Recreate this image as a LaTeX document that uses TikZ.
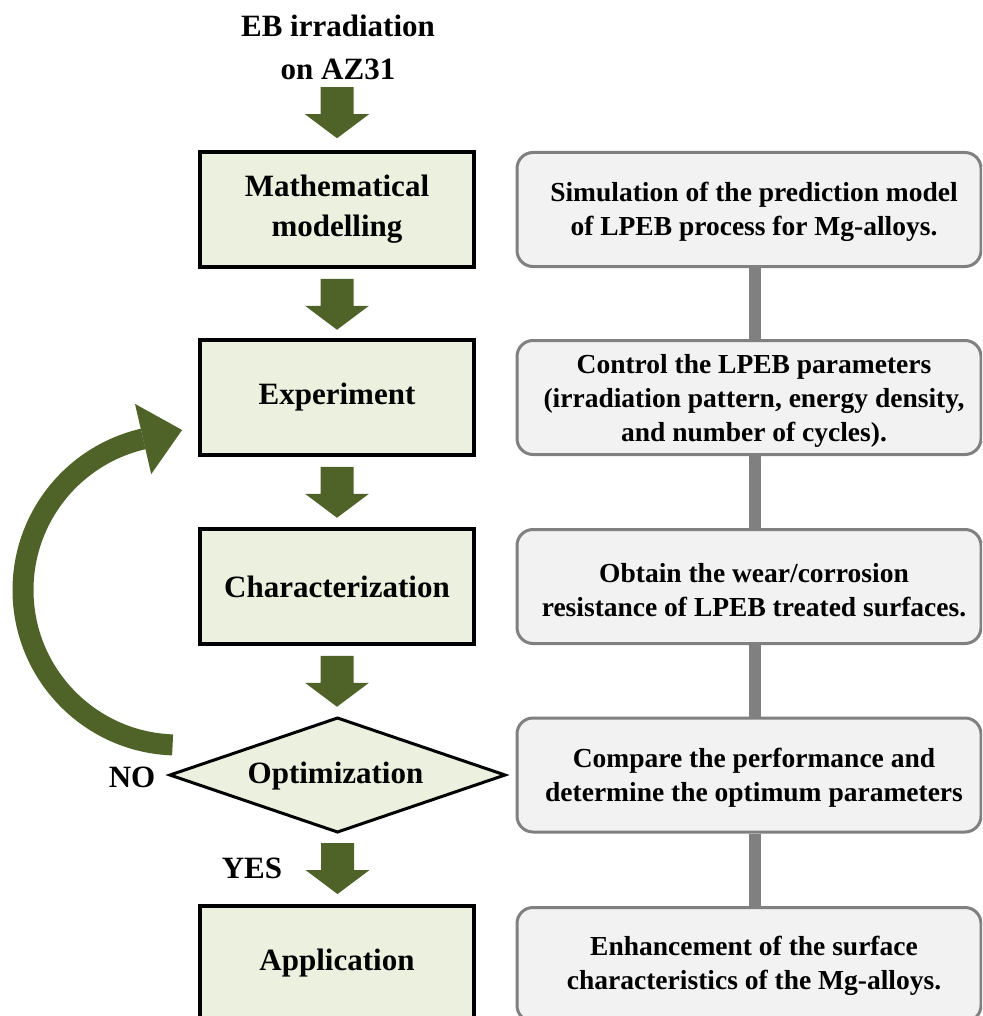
\documentclass[tikz,border=0pt]{standalone}
\usepackage{fontspec}
\setmainfont{Liberation Serif}
\usetikzlibrary{calc}
\definecolor{arrowgreen}{HTML}{4F6228}
\definecolor{lfill}{HTML}{EBF1DE}
\definecolor{rfill}{HTML}{F2F2F2}
\definecolor{rdraw}{HTML}{808080}
\newcommand{\blockarrow}[1]{%
  \fill[arrowgreen] ($(#1)+(-16.5,0)$) -- ($(#1)+(16.5,0)$) -- ($(#1)+(16.5,27)$) -- ($(#1)+(32,27)$) -- ($(#1)+(0,51)$) -- ($(#1)+(-32,27)$) -- ($(#1)+(-16.5,27)$) -- cycle;}
\tikzset{
  lbox/.style={draw=black, line width=3.5pt, fill=lfill, minimum width=274pt, minimum height=115pt, inner sep=0pt, align=center, font=\bfseries\fontsize{31}{40}\selectfont},
  diamtext/.style={inner sep=0pt, font=\bfseries\fontsize{31}{40}\selectfont},
  diamline/.style={draw=black, line width=3pt, fill=lfill, line join=miter},
  rbox/.style={draw=rdraw, line width=3pt, fill=rfill, rounded corners=16pt, minimum width=464pt, minimum height=114pt, inner sep=0pt},
  rtext/.style={align=center, inner sep=0pt, font=\bfseries\fontsize{27.5}{34}\selectfont},
  ltext/.style={align=center, inner sep=0pt, font=\bfseries\fontsize{31}{43}\selectfont},
  conn/.style={draw=rdraw, line width=12pt},
  loop/.style={draw=arrowgreen, line width=21pt}
}
\begin{document}
\begin{tikzpicture}[x=1pt,y=-1pt]
\useasboundingbox (0,0) rectangle (982,1016);
\clip (0,0) rectangle (982,1016);
% left column
\node[ltext] (title) at (338,47) {EB irradiation\\on AZ31};
\node[lbox] (math) at (337,209.5) {Mathematical\\modelling};
\node[lbox] (exp) at (337,397.5) {Experiment};
\node[lbox] (char) at (337,586.5) {Characterization};
% decision diamond
\coordinate (opt) at (337.5,775);
\coordinate (optW) at ($(opt)+(-167.5,0)$);
\coordinate (optN) at ($(opt)+(0,-57)$);
\coordinate (optE) at ($(opt)+(167.5,0)$);
\coordinate (optS) at ($(opt)+(0,57)$);
\draw[diamline] (optW) -- (optN) -- (optE) -- (optS) -- cycle;
\node[diamtext] (optt) at ($(opt)+(-2,1)$) {Optimization};
\node[lbox] (app) at (337,963.5) {Application};
\node[ltext] (no) at (132,777) {NO};
\node[ltext] (yes) at (252,868) {YES};
% block arrows
\coordinate (a1) at ($(math.north)+(0,-63)$);
\coordinate (a2) at ($(math.south)+(0,10)$);
\coordinate (a3) at ($(exp.south)+(0,10)$);
\coordinate (a4) at ($(char.south)+(0,10)$);
\coordinate (a5) at ($(optS)+(0,11)$);
\blockarrow{a1}
\blockarrow{a2}
\blockarrow{a3}
\blockarrow{a4}
\blockarrow{a5}
% loop arrow from optimization back to experiment
\coordinate (loopstart) at (172.6,744.9);
\coordinate (loopend) at (143.1,439.0);
\draw[loop] (loopstart) arc[start angle=92, end angle=257, radius=155];
\fill[arrowgreen] (135,403.9) -- (182.1,430) -- (151.2,474.1) -- cycle;
% right column
\node[rbox] (r1) at (749,209.5) {};
\node[rbox] (r2) at (749,397.5) {};
\node[rbox] (r3) at (749,586.5) {};
\node[rbox] (r4) at (749,775) {};
\node[rbox] (r5) at (749,964.5) {};
\draw[conn] (755,0 |- r1.south) -- (755,0 |- r2.north);
\draw[conn] (755,0 |- r2.south) -- (755,0 |- r3.north);
\draw[conn] (755,0 |- r3.south) -- (755,0 |- r4.north);
\draw[conn] (755,0 |- r4.south) -- (755,0 |- r5.north);
\node[rtext] (t1) at (754,212) {Simulation of the prediction model\\of LPEB process for Mg-alloys.};
\node[rtext] (t2) at (754,401) {Control the LPEB parameters\\(irradiation pattern, energy density,\\and number of cycles).};
\node[rtext] (t3) at (754,590) {Obtain the wear/corrosion\\resistance of LPEB treated surfaces.};
\node[rtext] (t4) at (754,778) {Compare the performance and\\determine the optimum parameters};
\node[rtext] (t5) at (754,966) {Enhancement of the surface\\characteristics of the Mg-alloys.};
\end{tikzpicture}
\end{document}
